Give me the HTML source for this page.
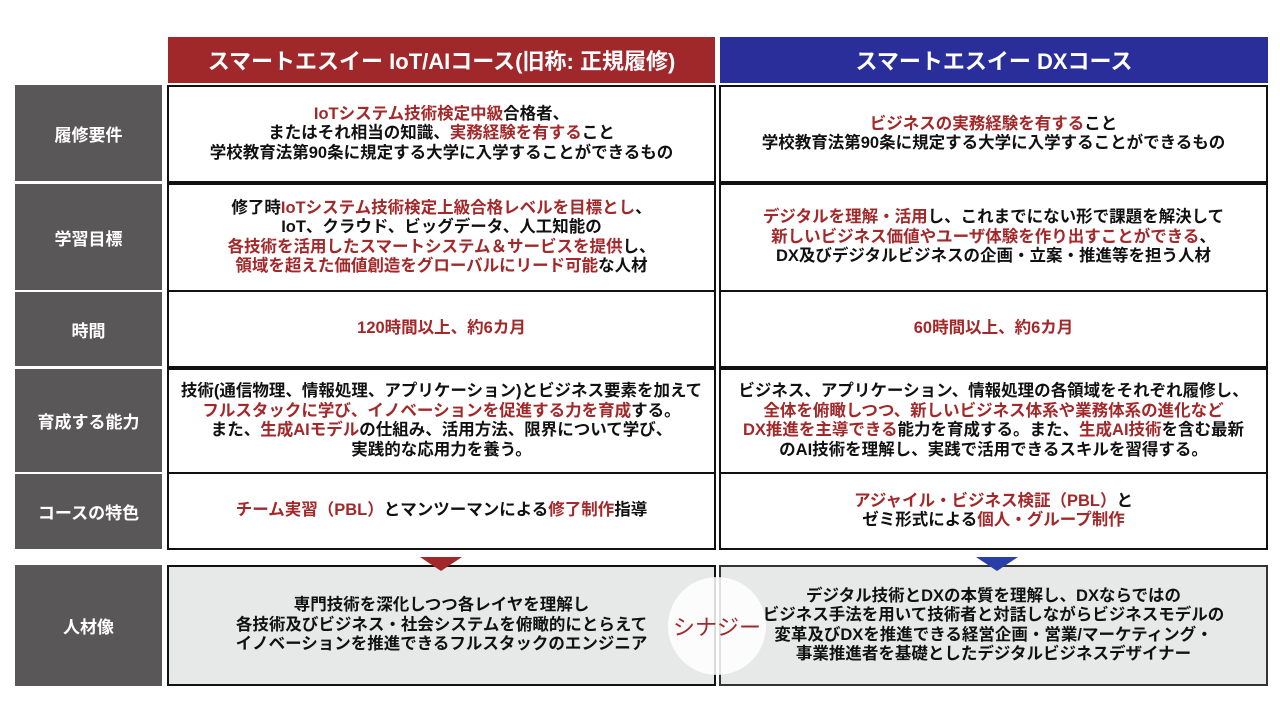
<!DOCTYPE html>
<html><head><meta charset="utf-8"><style>
*{margin:0;padding:0;box-sizing:border-box}
body{width:1280px;height:720px;background:#fff;position:relative;overflow:hidden;font-family:"Liberation Sans","Noto Sans CJK JP",sans-serif;font-weight:bold;color:#111}
.a{position:absolute;display:flex;align-items:center;justify-content:center;text-align:center}
.h{color:#fff;font-size:22px}
.l{background:#595757;color:#fff;font-size:17px;left:15px;width:147px}
.c{border:2px solid #111;font-size:16.5px;line-height:19.5px;background:#fff;white-space:nowrap}
.r{color:#a3282a}
.g{background:#e7e8e8}
</style></head><body>
<div class="a h" style="left:168px;top:37px;width:547px;height:46px;background:#a0272a">スマートエスイー IoT/AIコース(旧称: 正規履修)</div>
<div class="a h" style="left:720px;top:37px;width:548px;height:46px;background:#2a2e9a">スマートエスイー DXコース</div>

<div class="a l" style="top:85px;height:96px">履修要件</div>
<div class="a l" style="top:184px;height:106px">学習目標</div>
<div class="a l" style="top:292px;height:74px">時間</div>
<div class="a l" style="top:369px;height:103px">育成する能力</div>
<div class="a l" style="top:474px;height:75px">コースの特色</div>
<div class="a l" style="top:565px;height:121px">人材像</div>

<div class="a c" style="left:167px;top:85px;width:549px;height:98px"><div><span class="r">IoTシステム技術検定中級</span>合格者、<br>またはそれ相当の知識、<span class="r">実務経験を有する</span>こと<br>学校教育法第90条に規定する大学に入学することができるもの</div></div>
<div class="a c" style="left:719px;top:85px;width:549px;height:98px"><div><span class="r">ビジネスの実務経験を有する</span>こと<br>学校教育法第90条に規定する大学に入学することができるもの</div></div>

<div class="a c" style="left:167px;top:183px;width:549px;height:109px"><div>修了時<span class="r">IoTシステム技術検定上級合格レベルを目標とし</span>、<br>IoT、クラウド、ビッグデータ、人工知能の<br><span class="r">各技術を活用したスマートシステム＆サービスを提供</span>し、<br><span class="r">領域を超えた価値創造をグローバルにリード可能</span>な人材</div></div>
<div class="a c" style="left:719px;top:183px;width:549px;height:109px"><div><span class="r">デジタルを理解・活用</span>し、これまでにない形で課題を解決して<br><span class="r">新しいビジネス価値やユーザ体験を作り出すことができる</span>、<br>DX及びデジタルビジネスの企画・立案・推進等を担う人材</div></div>

<div class="a c r" style="left:167px;top:290px;width:549px;height:78px">120時間以上、約6カ月</div>
<div class="a c r" style="left:719px;top:290px;width:549px;height:78px">60時間以上、約6カ月</div>

<div class="a c" style="left:167px;top:368px;width:549px;height:106px"><div>技術(通信物理、情報処理、アプリケーション)とビジネス要素を加えて<br><span class="r">フルスタックに学び、イノベーションを促進する力を育成</span>する。<br>また、<span class="r">生成AIモデル</span>の仕組み、活用方法、限界について学び、<br>実践的な応用力を養う。</div></div>
<div class="a c" style="left:719px;top:368px;width:549px;height:106px"><div>ビジネス、アプリケーション、情報処理の各領域をそれぞれ履修し、<br><span class="r">全体を俯瞰しつつ、新しいビジネス体系や業務体系の進化など</span><br><span class="r">DX推進を主導できる</span>能力を育成する。また、<span class="r">生成AI技術</span>を含む最新<br>のAI技術を理解し、実践で活用できるスキルを習得する。</div></div>

<div class="a c" style="left:167px;top:472px;width:549px;height:78px"><div><span class="r">チーム実習（PBL）</span>とマンツーマンによる<span class="r">修了制作</span>指導</div></div>
<div class="a c" style="left:719px;top:472px;width:549px;height:78px"><div><span class="r">アジャイル・ビジネス検証（PBL）</span>と<br>ゼミ形式による<span class="r">個人・グループ制作</span></div></div>

<div class="a c g" style="left:167px;top:565px;width:549px;height:121px"><div>専門技術を深化しつつ各レイヤを理解し<br>各技術及びビジネス・社会システムを俯瞰的にとらえて<br>イノベーションを推進できるフルスタックのエンジニア</div></div>
<div class="a c g" style="left:719px;top:565px;width:549px;height:121px;border-color:#333"><div>デジタル技術とDXの本質を理解し、DXならではの<br>ビジネス手法を用いて技術者と対話しながらビジネスモデルの<br>変革及びDXを推進できる経営企画・営業/マーケティング・<br>事業推進者を基礎としたデジタルビジネスデザイナー</div></div>

<div style="position:absolute;left:420px;top:557px;width:0;height:0;border-left:21px solid transparent;border-right:21px solid transparent;border-top:14px solid #a0272a"></div>
<div style="position:absolute;left:976px;top:557px;width:0;height:0;border-left:21px solid transparent;border-right:21px solid transparent;border-top:14px solid #2a3ea8"></div>

<div class="a" style="left:668px;top:577px;width:98px;height:98px;border-radius:50%;background:rgba(255,255,255,0.85);color:#a3282a;font-size:22px;font-weight:normal">シナジー</div>
</body></html>
